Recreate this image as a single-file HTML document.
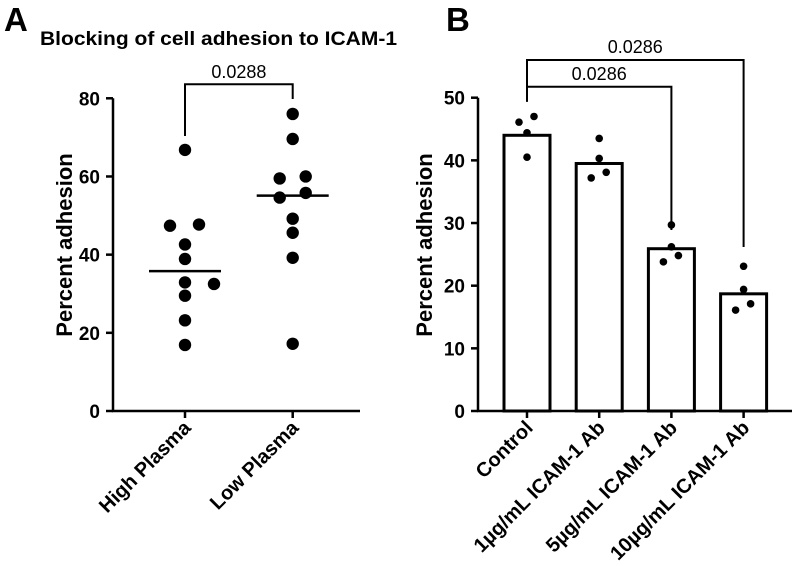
<!DOCTYPE html>
<html><head><meta charset="utf-8"><style>
html,body{margin:0;padding:0;background:#fff;}
svg{display:block;font-family:"Liberation Sans",Arial,sans-serif;}
</style></head><body>
<svg id="s" width="796" height="566" viewBox="0 0 796 566">
<text x="4" y="31" font-size="33" font-weight="bold">A</text>
<text x="40" y="45" font-size="19.5" font-weight="bold" textLength="357" lengthAdjust="spacingAndGlyphs">Blocking of cell adhesion to ICAM-1</text>
<text x="446" y="31" font-size="33" font-weight="bold">B</text>
<text transform="translate(72,245) rotate(-90)" text-anchor="middle" font-size="22" font-weight="bold">Percent adhesion</text>
<text transform="translate(432,245) rotate(-90)" text-anchor="middle" font-size="22" font-weight="bold">Percent adhesion</text>
<g id="ga"></g><g id="gb"></g>
</svg>
<script>
// Panel A data
const aCats=["High Plasma","Low Plasma"];
const aHigh=[66.8,47.4,47.7,42.6,38.9,32.9,32.5,29.5,23.2,16.9];
const aLow=[76,69.6,59.5,60,54.6,55.8,49.2,45.6,39.2,17.2];
const aMedians=[35.8,55.1];
const aTicks=[0,20,40,60,80];
const aP="0.0288";
// Panel B data
const bCats=["Control","1\u00b5g/mL ICAM-1 Ab","5\u00b5g/mL ICAM-1 Ab","10\u00b5g/mL ICAM-1 Ab"];
const bMeans=[44.0,39.5,25.9,18.7];
const bPts=[[46.1,47.0,44.4,40.5],[43.5,40.3,37.2,38.1],[29.7,26.2,23.8,24.8],[23.1,19.4,16.1,17.1]];
const bTicks=[0,10,20,30,40,50];
const bP=["0.0286","0.0286"];

const NS="http://www.w3.org/2000/svg";
function mk(p,t,a){const e=document.createElementNS(NS,t);for(const k in a)e.setAttribute(k,a[k]);p.appendChild(e);return e;}
const ga=document.getElementById('ga'),gb=document.getElementById('gb');

// ---- Panel A
const ay=v=>411-v*(411-98.3)/80;
const ax=i=>185+i*107.7;
let e=mk(ga,'path',{d:`M113,98.3V411H360`,fill:'none',stroke:'#000','stroke-width':2.5});

aTicks.forEach(t=>{
 let l=mk(ga,'line',{x1:106,x2:113,y1:ay(t),y2:ay(t),stroke:'#000','stroke-width':2.5});
 
 let tx=mk(ga,'text',{x:100,y:ay(t)+7,'text-anchor':'end','font-size':19,'font-weight':'bold'});tx.textContent=t;
 
});
aCats.forEach((c,i)=>{
 let l=mk(ga,'line',{x1:ax(i),x2:ax(i),y1:411,y2:418,stroke:'#000','stroke-width':2.5});
 
 let tx=mk(ga,'text',{transform:`translate(${ax(i)+7},${429}) rotate(-45)`,'text-anchor':'end','font-size':20,'font-weight':'bold'});tx.textContent=c;
 
});
function jitterA(vals,i){
 const offs=i===0?[0,-15,14,0,0,0,29,0,0,0]:[0,0,-13,13,-13,13,0,0,0,0];
 vals.forEach((v,k)=>{let c=mk(ga,'circle',{cx:ax(i)+offs[k],cy:ay(v),r:6.2,fill:'#000'});
  });
}
jitterA(aHigh,0);jitterA(aLow,1);
aMedians.forEach((m,i)=>{let l=mk(ga,'line',{x1:ax(i)-36,x2:ax(i)+36,y1:ay(m),y2:ay(m),stroke:'#000','stroke-width':2.5});
 });
e=mk(ga,'path',{d:`M${ax(0)},136V84.3H${ax(1)}V99`,fill:'none',stroke:'#000','stroke-width':2});

e=mk(ga,'text',{x:(ax(0)+ax(1))/2,y:78,'text-anchor':'middle','font-size':18});e.textContent=aP;


// ---- Panel B
const by=v=>411-v*(411-97.7)/50;
const bx=i=>527+i*72.2;
e=mk(gb,'path',{d:`M478,97.7V411H792`,fill:'none',stroke:'#000','stroke-width':2.5});

bTicks.forEach(t=>{
 let l=mk(gb,'line',{x1:471,x2:478,y1:by(t),y2:by(t),stroke:'#000','stroke-width':2.5});
 
 let tx=mk(gb,'text',{x:465,y:by(t)+7,'text-anchor':'end','font-size':19,'font-weight':'bold'});tx.textContent=t;
 
});
bCats.forEach((c,i)=>{
 let r=mk(gb,'rect',{x:bx(i)-23,y:by(bMeans[i]),width:46,height:411-by(bMeans[i]),fill:'#fff',stroke:'#000','stroke-width':3});
 
 let l=mk(gb,'line',{x1:bx(i),x2:bx(i),y1:411,y2:418,stroke:'#000','stroke-width':2.5});
 
 let tx=mk(gb,'text',{transform:`translate(${bx(i)+7},${429}) rotate(-45)`,'text-anchor':'end','font-size':20,'font-weight':'bold'});tx.textContent=c;
 
 bPts[i].forEach((v,k)=>{const o=i===0?[-8,7,0,0][k]:[0,0,-8,7][k];
  let d=mk(gb,'circle',{cx:bx(i)+o,cy:by(v),r:3.8,fill:'#000'});
  });
});
e=mk(gb,'path',{d:`M${bx(0)},101.7V60H${bx(3)}V247`,fill:'none',stroke:'#000','stroke-width':2});

e=mk(gb,'path',{d:`M${bx(0)},101.7V86.7H${bx(2)}V230`,fill:'none',stroke:'#000','stroke-width':2});

e=mk(gb,'text',{x:(bx(0)+bx(3))/2,y:53,'text-anchor':'middle','font-size':18});e.textContent=bP[0];

e=mk(gb,'text',{x:(bx(0)+bx(2))/2,y:80,'text-anchor':'middle','font-size':18});e.textContent=bP[1];

</script>
</body></html>
